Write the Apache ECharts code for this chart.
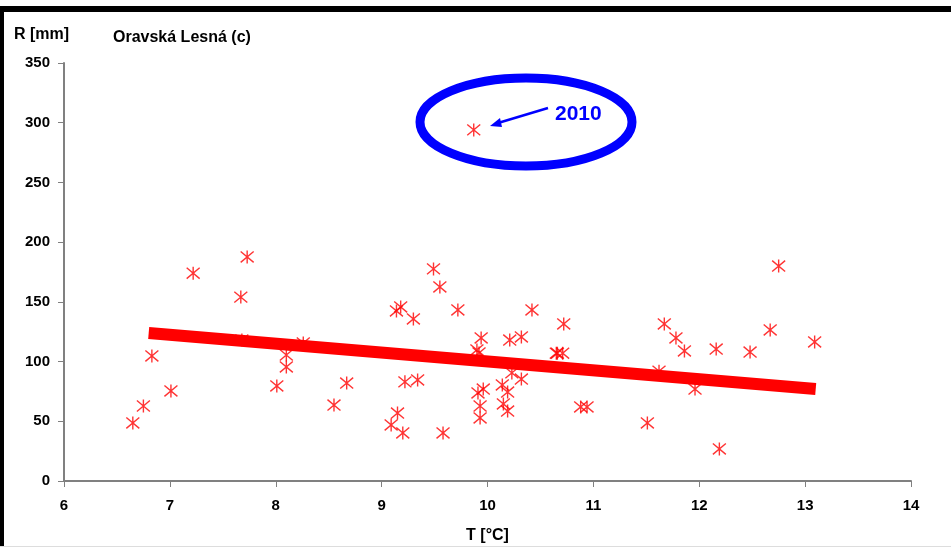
<!DOCTYPE html>
<html><head><meta charset="utf-8">
<script src="https://cdn.jsdelivr.net/npm/echarts@6/dist/echarts.min.js"></script>
<style>html,body{margin:0;padding:0;background:#fff}#c{width:951px;height:549px}</style>
</head><body><div id="c"></div>
<script>
// Data: T [°C], R [mm]
const tempT = [6.65,6.75,6.83,7.01,7.22,7.67,7.73,7.68,8.01,8.10,8.10,8.26,8.55,8.67,
  9.49,9.55,9.14,9.18,9.30,9.72,10.42,9.94,9.90,9.92,10.21,10.32,10.66,
  9.22,9.34,9.96,9.91,10.14,10.19,10.23,10.32,9.93,9.93,10.15,10.19,9.15,9.09,9.20,9.58,
  12.75,10.72,10.65,10.71,11.67,11.78,11.86,12.16,12.48,12.67,13.09,11.62,11.96,10.88,10.94,11.51,12.19,9.87];
const precR = [48.6,62.8,104.7,75.4,174,154,187.6,118,79.6,105.5,95.5,115.6,63.6,82,
  177.6,162.5,142.4,145.7,135.7,143.2,143.2,119.8,109.7,107.2,118,120.6,107,
  83,84.6,77,73.7,80.4,74.5,90.5,85.4,62.8,52.8,64.5,58.6,56.9,46.9,40.2,40.2,
  180,131.5,107,107,131.5,119.8,108.9,110.5,108,126.5,116.4,92,77,62,62,48.6,26.8,294];
const trendT = [6.8, 13.1];
const trendR = [124, 77];
const xTicks = [6,7,8,9,10,11,12,13,14];
const yTicks = [0,50,100,150,200,250,300,350];

const chart = echarts.init(document.getElementById('c'));
const font = 'Liberation Sans, Arial, sans-serif';
const star = 'path://M0,0L10,10M10,0L0,10M5,-1L5,11';
chart.setOption({
  backgroundColor: '#fff',
  animation: false,
  grid: {left: 64, right: 40, top: 63, bottom: 68, outerBoundsMode: 'none', containLabel: false},
  xAxis: {
    type: 'value', min: xTicks[0], max: xTicks[xTicks.length-1], interval: 1,
    name: 'T [°C]', nameLocation: 'middle', nameGap: 47,
    nameTextStyle: {fontFamily: font, fontWeight: 'bold', fontSize: 16, color: '#000'},
    axisLine: {show: true, lineStyle: {color: '#808080', width: 2}},
    axisTick: {show: true, length: 6, lineStyle: {color: '#808080'}},
    axisLabel: {fontFamily: font, fontWeight: 'bold', fontSize: 15, color: '#000', margin: 17},
    splitLine: {show: false}
  },
  yAxis: {
    type: 'value', min: yTicks[0], max: yTicks[yTicks.length-1], interval: 50,
    axisLine: {show: true, lineStyle: {color: '#808080', width: 2}},
    axisTick: {show: true, length: 6, lineStyle: {color: '#808080'}},
    axisLabel: {fontFamily: font, fontWeight: 'bold', fontSize: 15, color: '#000', margin: 14},
    splitLine: {show: false}
  },
  series: [
    {
      type: 'scatter',
      data: tempT.map((t, i) => [t, precR[i]]),
      symbol: star, symbolSize: 13,
      itemStyle: {color: 'none', borderColor: '#FF0000', borderWidth: 1.4}
    },
    {
      type: 'line',
      data: trendT.map((t, i) => [t, trendR[i]]),
      symbol: 'none',
      lineStyle: {color: '#FF0000', width: 12},
      z: 3
    }
  ],
  graphic: [
    {type: 'rect', shape: {x: 0, y: 6, width: 951, height: 6}, style: {fill: '#000'}},
    {type: 'rect', shape: {x: 0, y: 6, width: 4, height: 540}, style: {fill: '#000'}},
    {type: 'rect', shape: {x: 0, y: 546, width: 951, height: 1}, style: {fill: '#ddd'}},
    {type: 'text', left: 14, top: 27, style: {text: 'R [mm]', font: 'bold 16px ' + font, fill: '#000'}},
    {type: 'text', left: 113, top: 30, style: {text: 'Oravská Lesná (c)', font: 'bold 16px ' + font, fill: '#000'}},
    {type: 'ellipse', shape: {cx: 526, cy: 122, rx: 106, ry: 44}, style: {fill: 'none', stroke: '#0000FF', lineWidth: 9}, z: 10},
    {type: 'line', shape: {x1: 548, y1: 108, x2: 498, y2: 123}, style: {stroke: '#0000FF', lineWidth: 2.5}, z: 10},
    {type: 'polygon', shape: {points: [[490,126],[500,118],[502,127]]}, style: {fill: '#0000FF'}, z: 10},
    {type: 'text', left: 555, top: 104, style: {text: '2010', font: 'bold 21px ' + font, fill: '#0000FF'}, z: 10}
  ]
});
</script></body></html>
